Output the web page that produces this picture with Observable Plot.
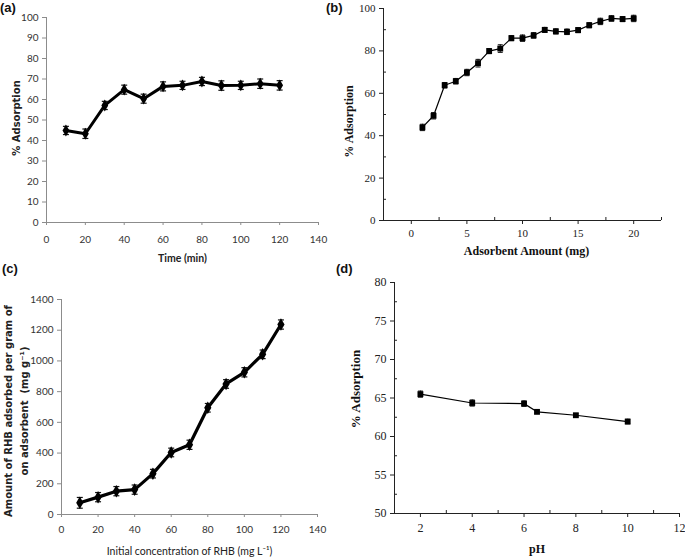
<!DOCTYPE html>
<html>
<head>
<meta charset="utf-8">
<script src="https://cdn.jsdelivr.net/npm/d3@7"></script>
<script src="https://cdn.jsdelivr.net/npm/@observablehq/plot@0.6"></script>
<style>
  html, body { margin: 0; padding: 0; background: #fff; }
  #root { position: relative; width: 685px; height: 558px; overflow: hidden; background: #fff; }
  .panel { position: absolute; }
  .tag { position: absolute; font-family: "Liberation Sans", Arial, sans-serif; font-weight: bold; font-size: 13px; color: #111; }
</style>
</head>
<body>
<div id="root"></div>
<script>
// ---------- Data ----------
// (a) contact time
const timeMin = [10, 20, 30, 40, 50, 60, 70, 80, 90, 100, 110, 120];
const adsTime = [44.9, 43.3, 57.1, 64.8, 60.4, 66.4, 66.9, 68.8, 66.8, 66.9, 67.7, 66.9];
const errTime = [2, 2.3, 2, 2.2, 2.2, 2.2, 2, 2, 2.3, 2, 2.3, 2.3];
const aXTicks = [0, 20, 40, 60, 80, 100, 120, 140];
const aYTicks = [0, 10, 20, 30, 40, 50, 60, 70, 80, 90, 100];

// (b) adsorbent amount
const amountMg = [1, 2, 3, 4, 5, 6, 7, 8, 9, 10, 11, 12, 13, 14, 15, 16, 17, 18, 19, 20];
const adsAmount = [43.9, 49.4, 63.8, 65.7, 69.8, 74.2, 79.9, 81.1, 86.0, 86.0, 87.3, 89.9, 89.2, 89.0, 89.8, 92.1, 93.9, 95.3, 95.0, 95.3];
const errAmount = [1.5, 1.5, 1.3, 1.3, 1.5, 1.8, 1.2, 1.8, 1.2, 1.5, 1.3, 1.2, 1.2, 1.3, 1.2, 1.2, 1.5, 1.3, 1.2, 1.5];
const bXTicks = [0, 5, 10, 15, 20];
const bXMinor = [-2.5, 2.5, 7.5, 12.5, 17.5, 22.5];
const bYTicks = [0, 20, 40, 60, 80, 100];
const bYMinor = [10, 30, 50, 70, 90];

// (c) initial concentration
const concRHB = [10, 20, 30, 40, 50, 60, 70, 80, 90, 100, 110, 120];
const qRHB = [76, 113, 152, 162, 266, 404, 454, 695, 850, 926, 1043, 1237];
const errQ = [35, 30, 30, 30, 28, 28, 30, 28, 28, 30, 28, 30];
const cXTicks = [0, 20, 40, 60, 80, 100, 120, 140];
const cYTicks = [0, 200, 400, 600, 800, 1000, 1200, 1400];

// (d) pH
const phVals = [2, 4, 6, 6.5, 8, 10];
const adsPH = [65.5, 64.35, 64.27, 63.2, 62.76, 61.94];
const errPH = [0.4, 0.4, 0.35, 0.2, 0.2, 0.3];
const dXTicks = [2, 4, 6, 8, 10, 12];
const dXMinor = [3, 5, 7, 9, 11];
const dYTicks = [50, 55, 60, 65, 70, 75, 80];
const dYMinor = [52.5, 57.5, 62.5, 67.5, 72.5, 77.5];

// ---------- helpers ----------
const capSymbol = {
  draw(context, size) {
    const r = Math.sqrt(size / Math.PI);
    context.moveTo(-r, 0);
    context.lineTo(r, 0);
  }
};
const plain = d => String(d);
const rows = (xs, ys, es) => xs.map((x, i) => ({x, y: ys[i], e: es[i]}));
function errorMarks(data, capR, w) {
  return [
    Plot.ruleX(data, {x: "x", y1: d => d.y - d.e, y2: d => d.y + d.e, stroke: "#111", strokeWidth: w}),
    Plot.dot(data, {x: "x", y: d => d.y - d.e, symbol: capSymbol, r: capR, stroke: "#111", strokeWidth: w}),
    Plot.dot(data, {x: "x", y: d => d.y + d.e, symbol: capSymbol, r: capR, stroke: "#111", strokeWidth: w})
  ];
}

const root = document.getElementById("root");
function place(node, left, top) {
  const d = document.createElement("div");
  d.className = "panel";
  d.style.left = left + "px";
  d.style.top = top + "px";
  d.appendChild(node);
  root.appendChild(d);
}
function tag(text, left, top) {
  const d = document.createElement("div");
  d.className = "tag";
  d.style.left = left + "px";
  d.style.top = top + "px";
  d.textContent = text;
  root.appendChild(d);
}

const sansNarrow = "Lato, 'Liberation Sans', sans-serif";
const wideBold = "'DejaVu Sans', Verdana, sans-serif";
const serif = "'Liberation Serif', 'Times New Roman', serif";

const yTitle = (label, dx, dy, font, size, fill) =>
  Plot.text([label], {text: d => d, frameAnchor: "left", textAnchor: "middle", lineAnchor: "middle",
    rotate: -90, dx, dy, fontFamily: font, fontWeight: "bold", fontSize: size, fill});
const xTitle = (label, dx, dy, font, size, weight, fill, extra = {}) =>
  Plot.text([label], {text: d => d, frameAnchor: "bottom", textAnchor: "middle", lineAnchor: "middle",
    dx, dy, fontFamily: font, fontWeight: weight, fontSize: size, fill, ...extra});

// ---------- (a) ----------
const dataA = rows(timeMin, adsTime, errTime);
const plotA = Plot.plot({
  width: 340, height: 280,
  marginLeft: 46, marginRight: 22, marginTop: 17, marginBottom: 58,
  x: {domain: [0, 140]},
  y: {domain: [0, 100]},
  style: {fontFamily: sansNarrow, fontSize: "10px", color: "#333", background: "transparent", overflow: "visible"},
  marks: [
    Plot.axisX({ticks: aXTicks, tickFormat: plain, tickSize: 3, tickPadding: 10, stroke: "#8c8c8c", fill: "#333", label: null}),
    Plot.axisY({ticks: aYTicks, tickFormat: plain, tickSize: 4, tickPadding: 4, stroke: "#8c8c8c", fill: "#333", label: null}),
    Plot.ruleY([0], {stroke: "#8c8c8c"}),
    Plot.ruleX([0], {stroke: "#8c8c8c"}),
    Plot.line(dataA, {x: "x", y: "y", stroke: "#000", strokeWidth: 3}),
    ...errorMarks(dataA, 3, 1.2),
    Plot.dot(dataA, {x: "x", y: "y", symbol: "diamond", r: 3.6, fill: "#000"}),
    yTitle("% Adsorption", -30, -2, wideBold, 10, "#222"),
    xTitle("Time (min)", 0, 36, sansNarrow, 10.5, "bold", "#222")
  ]
});
place(plotA, 0, 0);

// ---------- (b) ----------
const dataB = rows(amountMg, adsAmount, errAmount);
const plotB = Plot.plot({
  width: 345, height: 280,
  marginLeft: 43, marginRight: 24, marginTop: 8, marginBottom: 60,
  x: {domain: [-2.5, 22.5]},
  y: {domain: [0, 100]},
  style: {fontFamily: serif, fontSize: "11px", color: "#222", background: "transparent", overflow: "visible"},
  marks: [
    Plot.axisX({ticks: bXTicks, tickFormat: plain, tickSize: 4, tickPadding: 5, stroke: "#222", fill: "#222", label: null}),
    Plot.axisX({ticks: bXMinor, tickSize: -3, tickFormat: () => "", stroke: "#222", label: null}),
    Plot.axisY({ticks: bYTicks, tickFormat: plain, tickSize: 4, tickPadding: 4, stroke: "#222", fill: "#222", label: null}),
    Plot.axisY({ticks: bYMinor, tickSize: -3, tickFormat: () => "", stroke: "#222", label: null}),
    Plot.ruleY([0], {stroke: "#222"}),
    Plot.ruleX([-2.5], {stroke: "#222"}),
    Plot.line(dataB, {x: "x", y: "y", stroke: "#000", strokeWidth: 1.2}),
    ...errorMarks(dataB, 2.5, 1),
    Plot.dot(dataB, {x: "x", y: "y", symbol: "square", r: 3.3, fill: "#000"}),
    yTitle("% Adsorption", -34, 7, serif, 12, "#111"),
    xTitle("Adsorbent Amount (mg)", 4, 31, serif, 12, "bold", "#111", {letterSpacing: "0.6px"})
  ]
});
place(plotB, 340, 0);

// ---------- (c) ----------
const dataC = rows(concRHB, qRHB, errQ);
const plotC = Plot.plot({
  width: 340, height: 278,
  marginLeft: 61, marginRight: 23, marginTop: 19, marginBottom: 44,
  x: {domain: [0, 140]},
  y: {domain: [0, 1400]},
  style: {fontFamily: sansNarrow, fontSize: "10px", color: "#333", background: "transparent", overflow: "visible"},
  marks: [
    Plot.axisX({ticks: cXTicks, tickFormat: plain, tickSize: 3, tickPadding: 8, stroke: "#8c8c8c", fill: "#333", label: null}),
    Plot.axisY({ticks: cYTicks, tickFormat: plain, tickSize: 4, tickPadding: 4, stroke: "#8c8c8c", fill: "#333", label: null}),
    Plot.ruleY([0], {stroke: "#8c8c8c"}),
    Plot.ruleX([0], {stroke: "#8c8c8c"}),
    Plot.line(dataC, {x: "x", y: "y", stroke: "#000", strokeWidth: 3.2}),
    ...errorMarks(dataC, 3, 1.2),
    Plot.dot(dataC, {x: "x", y: "y", symbol: "diamond", r: 3.8, fill: "#000"}),
    yTitle("Amount of RHB adsorbed per gram of", -53, 4, wideBold, 10, "#222"),
    yTitle("on adsorbent  (mg g\u207B\u00B9)", -37, 4, wideBold, 10, "#222"),
    xTitle("Initial concentration of RHB (mg L\u207B\u00B9)", 0, 37, sansNarrow, 10.5, "normal", "#222")
  ]
});
place(plotC, 0, 280);

// ---------- (d) ----------
const dataD = rows(phVals, adsPH, errPH);
const plotD = Plot.plot({
  width: 345, height: 278,
  marginLeft: 54, marginRight: 6, marginTop: 2, marginBottom: 45,
  x: {domain: [1, 12]},
  y: {domain: [50, 80]},
  style: {fontFamily: serif, fontSize: "12px", color: "#222", background: "transparent", overflow: "visible"},
  marks: [
    Plot.axisX({ticks: dXTicks, tickFormat: plain, tickSize: 4, tickPadding: 6, stroke: "#222", fill: "#222", label: null}),
    Plot.axisX({ticks: dXMinor, tickSize: -3, tickFormat: () => "", stroke: "#222", label: null}),
    Plot.axisY({ticks: dYTicks, tickFormat: plain, tickSize: 4, tickPadding: 4, stroke: "#222", fill: "#222", label: null}),
    Plot.axisY({ticks: dYMinor, tickSize: -3, tickFormat: () => "", stroke: "#222", label: null}),
    Plot.ruleY([50], {stroke: "#222"}),
    Plot.ruleX([1], {stroke: "#222"}),
    Plot.line(dataD, {x: "x", y: "y", stroke: "#000", strokeWidth: 1.2}),
    ...errorMarks(dataD, 2.5, 1),
    Plot.dot(dataD, {x: "x", y: "y", symbol: "square", r: 3.3, fill: "#000"}),
    yTitle("% Adsorption", -39, -9, serif, 13, "#111"),
    xTitle("pH", 0, 36, serif, 12, "bold", "#111")
  ]
});
place(plotD, 340, 280);

// panel tags
tag("(a)", 0, 0);
tag("(b)", 326, 0);
tag("(c)", 2, 261);
tag("(d)", 336, 261);
</script>
</body>
</html>
